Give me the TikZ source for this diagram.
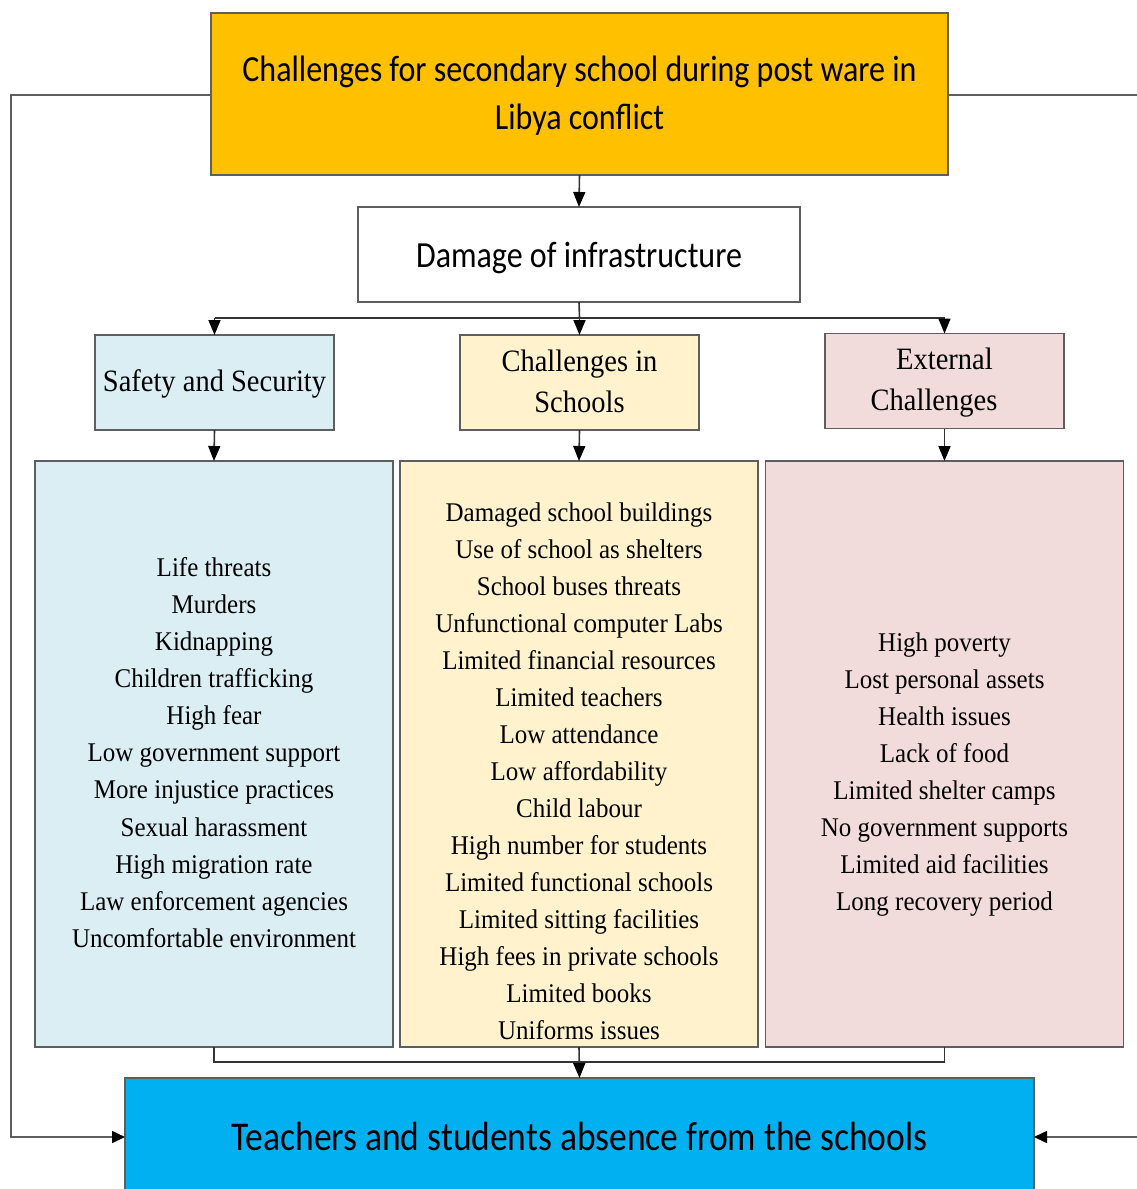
\documentclass[tikz,border=0pt]{standalone}
\usepackage{fontspec}
\setmainfont{Liberation Serif}
\newfontfamily\calib{Carlito}
\usetikzlibrary{arrows.meta}
\definecolor{topfill}{HTML}{FFC000}
\definecolor{safefill}{HTML}{DBEEF4}
\definecolor{schoolfill}{HTML}{FFF2CC}
\definecolor{extfill}{HTML}{F2DCDB}
\definecolor{endfill}{HTML}{00B0F0}
\definecolor{edge}{HTML}{5E5E5E}
\definecolor{wire}{HTML}{333333}
% centred lines, stretched vertically by a given factor
\newcommand\tallrows[2]{\scalebox{1}[#1]{\begin{tabular}{@{}c@{}}#2\end{tabular}}}
% lower a text block without changing the size it reports
\newcommand\dropby[2]{\raisebox{-#1}[\height][\depth]{#2}}
\tikzset{
  box/.style={draw=edge, line width=1.8pt, inner sep=0pt, outer sep=0pt, align=center, text=black},
  catbox/.style={box, minimum width=239pt, minimum height=95pt, font=\fontsize{28.5}{37.6}\selectfont},
  listbox/.style={box, minimum width=358pt, minimum height=586pt},
  listtext/.style={align=center, inner sep=0pt, font=\fontsize{25}{34.3}\selectfont},
  conn/.style={draw=wire, line width=1.6pt},
  arr/.style={conn, -{Triangle[length=15pt,width=12pt,color=black]}},
  sidearr/.style={conn, -{Triangle[length=13pt,width=12pt,color=black]}},
}
\begin{document}
\begin{tikzpicture}[x=1pt,y=-1pt]
\useasboundingbox (0,0) rectangle (1137,1189);
\clip (0,0) rectangle (1137,1189);

% headline box and first level
\node[box, fill=topfill, minimum width=737pt, minimum height=162pt,
      font=\calib\fontsize{32}{41.7}\selectfont] (top) at (579.5,94)
  {\dropby{2pt}{\tallrows{1.15}{Challenges for secondary school during post ware in\\Libya conflict}}};
\node[box, fill=white, minimum width=442pt, minimum height=95pt,
      font=\calib\fontsize{32}{40}\selectfont] (dmg) at (579,254.5)
  {\dropby{4pt}{\tallrows{1.15}{Damage of infrastructure}}};

% category boxes
\node[catbox, fill=safefill] (safe) at (214.5,382.5) {\dropby{1pt}{\tallrows{1.09}{Safety and Security}}};
\node[catbox, fill=schoolfill] (school) at (579.5,382.5) {\dropby{1pt}{\tallrows{1.09}{Challenges in\\Schools}}};
\node[catbox, fill=extfill] (ext) at (944.5,381) {\dropby{1pt}{\tallrows{1.09}{External\\Challenges\hspace*{21pt}}}};

% detail boxes
\node[listbox, fill=safefill] (safelist) at (214,754) {};
\node[listbox, fill=schoolfill] (schoollist) at (579,754) {};
\node[listbox, fill=extfill] (extlist) at (944.5,754) {};

\node[listtext] (safetext) at (214,754.5) {\tallrows{1.08}{Life threats\\Murders\\Kidnapping\\Children trafficking\\High fear\\Low government support\\More injustice practices\\Sexual harassment\\High migration rate\\Law enforcement agencies\\Uncomfortable environment}};
\node[listtext] (schooltext) at (579,773) {\tallrows{1.08}{Damaged school buildings\\Use of school as shelters\\School buses threats\\Unfunctional computer Labs\\Limited financial resources\\Limited teachers\\Low attendance\\Low affordability\\Child labour\\High number for students\\Limited functional schools\\Limited sitting facilities\\High fees in private schools\\Limited books\\Uniforms issues}};
\node[listtext] (exttext) at (944.5,773.5) {\tallrows{1.08}{High poverty\\Lost personal assets\\Health issues\\Lack of food\\Limited shelter camps\\No government supports\\Limited aid facilities\\Long recovery period}};

% outcome box
\node[box, fill=endfill, minimum width=909pt, minimum height=118pt,
      font=\calib\fontsize{35.5}{42}\selectfont] (end) at (579.5,1137)
  {\dropby{4pt}{\tallrows{1.15}{Teachers and students absence from the schools}}};

% junction points
\coordinate (jt) at (579.5,318);
\coordinate (jl) at (214.5,318);
\coordinate (jr) at (944.5,318);
\coordinate (bl) at (214,1062);
\coordinate (br) at (944.5,1062);
\coordinate (lc) at (11,95);
\coordinate (rc) at (1145,95);

% connectors
\draw[arr] (top.south) -- (dmg.north);
\draw[conn] (dmg.south) -- (jt);
\draw[conn] (jl) -- (jr);
\draw[arr] (jl) -- (safe.north);
\draw[arr] (jt) -- (school.north);
\draw[arr] (jr) -- (ext.north);
\draw[arr] (safe.south) -- (safelist.north);
\draw[arr] (school.south) -- (schoollist.north);
\draw[arr] (ext.south) -- (extlist.north);

\draw[conn] (safelist.south) -- (bl) -- (br) -- (extlist.south);
\draw[arr] (schoollist.south) -- (end.north);

\draw[sidearr, draw=edge] (top.west |- lc) -- (lc) |- (end.west);
\draw[sidearr, draw=edge] (top.east |- rc) -- (rc) |- (end.east);
\end{tikzpicture}
\end{document}
